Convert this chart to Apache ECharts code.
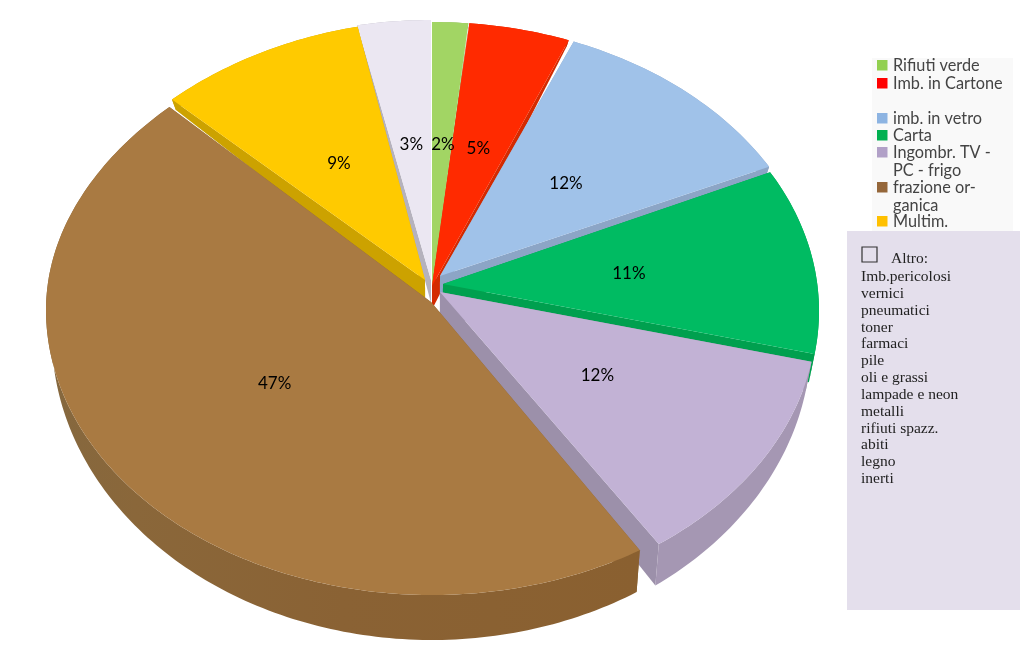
<!DOCTYPE html>
<html><head><meta charset="utf-8">
<style>html,body{margin:0;padding:0;background:#fff}#c{width:1024px;height:645px}</style>
<script src="https://cdn.jsdelivr.net/npm/echarts@6/dist/echarts.min.js"></script>
</head><body><div id="c"></div>
<script>
// ---- data ----
const categories = ['Rifiuti verde','Imb. in Cartone','imb. in vetro','Carta','Ingombr. TV - PC - frigo','frazione organica','Multim.','Altro'];
const shares = [1.5, 4.3, 11.1, 10.7, 12.8, 47.5, 8.9, 3.2];
const shareLabels = ['2%','5%','12%','11%','12%','47%','9%','3%'];
const legendLines = [['Rifiuti verde'],['Imb. in Cartone',null],['imb. in vetro'],['Carta'],['Ingombr. TV -','PC - frigo'],['frazione or-','ganica'],['Multim.']];
const altroTitle = 'Altro:';
const altroItems = ['Imb.pericolosi','vernici','pneumatici','toner','farmaci','pile','oli e grassi','lampade e neon','metalli','rifiuti spazz.','abiti','legno','inerti'];

// ---- styling ----
const topColors  = ['#a2d564','#ff2a00','#a0c2e9','#00bb62','#c2b2d5','#a97a42','#ffca00','#ebe7f2'];
const wallColors = ['#8fb866','#d42a00','#8ca5c6','#00a04f','#a597b3','#8c6434','#cca200','#b5b2bd'];
const cutColors  = ['#8fb866','#d42a00','#8ca5c6','#00a04f','#9c90aa','#8c6434','#cca200','#b5b2bd'];
const legendColors = ['#92d050','#ff0000','#8db4e2','#00b050','#b1a0c7','#95673a','#ffc000'];
const paintRank = [1,2,4,5,6,7,3,0];
const arcShift  = [[0,-3],[1,-3],[1,-3],[1,1],[-1,4],[0,0],[-1,-4],[-1,-5]];
const apexAt    = [[0,-20],[0,-24],[8,-34],[11,-26],[8,-18],[-1,-8],[-7,-30],[-1,-30]];
const angleTrim = [[0,0],[0,-0.3],[0.5,-0.3],[0,-0.7],[0.3,-1.6],[2,-1],[0,0],[0.5,0]];
const leftTaper = [0,0,0,0,0,0.06,0.05,0];
const labelFrac = [.55,.55,.52,.5,.49,.5,.52,.53];
const labelNudge = [[1,2],[-2,4],[-2,3],[1,1],[1,-1],[-6,-11],[0,1],[0,2]];
const CX=432, CY=310, RX=386, RY=285;

const total = shares.reduce((a,b)=>a+b,0);
const depth = y => 5 + 40*(y-20)/575;
const low = p => [CX+(p[0]-CX)*0.985, p[1]+depth(p[1])];

function renderItem(params, api){
  const i = params.dataIndex;
  let before = 0;
  for(let k=0;k<i;k++) before += shares[k];
  const a0 = before/total*360 + angleTrim[i][0];
  const a1 = (before+api.value(0))/total*360 + angleTrim[i][1];
  const sx = CX+arcShift[i][0], sy = CY+arcShift[i][1];
  const apex = [CX+apexAt[i][0], CY+apexAt[i][1]];
  const pointAt = t => {
    const v = Math.cos(t);
    const k = v>0 ? 1-leftTaper[i]*v*v : 1;
    return [sx+RX*k*Math.sin(t), sy-RY*v];
  };
  const arc = [];
  const n = Math.max(4, Math.ceil((a1-a0)));
  for(let k=0;k<=n;k++) arc.push(pointAt((a0+(a1-a0)*k/n)*Math.PI/180));
  const z = paintRank[i]*10;
  const first = arc[0], last = arc[arc.length-1];
  const outerWall = arc.concat(arc.slice().reverse().map(low));
  let wallFill = wallColors[i];
  if(i===5){
    wallFill = new echarts.graphic.LinearGradient(0,0,1,0,[
      {offset:0,color:'#85683f'},{offset:.15,color:'#8a673a'},{offset:.5,color:'#8a6234'},{offset:1,color:'#8a6030'}]);
  }
  const m = pointAt((a0+a1)/2*Math.PI/180);
  const f = labelFrac[i];
  const kids = [
    {type:'polygon',z2:z,shape:{points:[apex,first,low(first),low(apex)]},style:{fill:cutColors[i]}},
    {type:'polygon',z2:z,shape:{points:[apex,last,low(last),low(apex)]},style:{fill:cutColors[i]}},
    {type:'polygon',z2:z+1,shape:{points:outerWall},style:{fill:wallFill}},
    {type:'polygon',z2:z+2,shape:{points:[apex].concat(arc)},style:{fill:topColors[i]}},
    {type:'text',z2:200,style:{x:apex[0]+(m[0]-apex[0])*f+labelNudge[i][0],y:apex[1]+(m[1]-apex[1])*f+labelNudge[i][1],text:shareLabels[i],
      fill:'#000',font:'17px Lato',align:'center',verticalAlign:'middle'}}
  ];
  return {type:'group',children:kids};
}

// ---- legend panels as real text ----
const graphics = [
  {type:'rect',z:1,shape:{x:872,y:58,width:141,height:173},style:{fill:'#f9f9f9'}},
  {type:'rect',z:1,shape:{x:847,y:231,width:173,height:379},style:{fill:'#e4dfec'}},
  {type:'rect',z:2,shape:{x:862,y:247,width:15,height:15},style:{fill:'none',stroke:'#333',lineWidth:1.2}},
  {type:'text',z:2,style:{x:891,y:259,text:altroTitle,font:'15.5px "Liberation Serif"',fill:'#222',verticalAlign:'middle'}}
];
const rowYs = [65,83,118,135,152,187,221];
const lineGap = 17.3;
legendLines.forEach((lines,i)=>{
  graphics.push({type:'rect',z:2,shape:{x:877,y:rowYs[i]-5,width:10.5,height:10.5},style:{fill:legendColors[i]}});
  lines.forEach((t,j)=>{
    if(t===null) return;
    graphics.push({type:'text',z:2,style:{x:893,y:rowYs[i]+1+j*lineGap,text:t,font:'16.3px Lato',fill:'#444',verticalAlign:'middle'}});
  });
});
altroItems.forEach((t,i)=>{
  graphics.push({type:'text',z:2,style:{x:861,y:277+i*16.83,text:t,font:'15.5px "Liberation Serif"',fill:'#222',verticalAlign:'middle'}});
});

const chart = echarts.init(document.getElementById('c'),null,{renderer:'canvas'});
chart.setOption({
  animation:false,
  backgroundColor:'#fff',
  graphic:graphics,
  series:[{type:'custom',coordinateSystem:'none',silent:true,renderItem,
    data:shares.map((v,i)=>({name:categories[i],value:[v]}))}]
});
</script></body></html>
